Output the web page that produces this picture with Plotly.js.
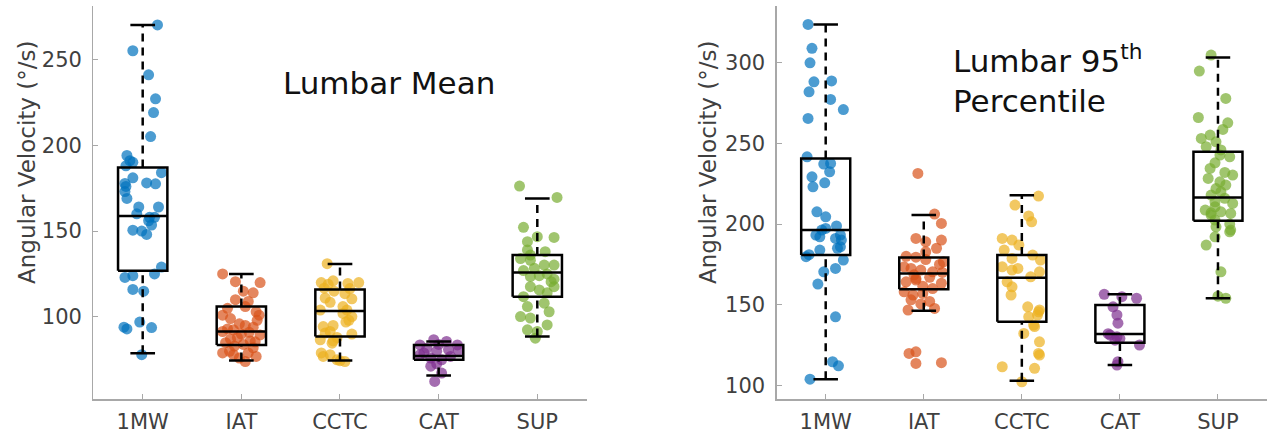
<!DOCTYPE html>
<html>
<head>
<meta charset="utf-8">
<script src="https://cdn.plot.ly/plotly-3.0.1.min.js"></script>
<style>html,body{margin:0;padding:0;background:#fff;}#chart{width:1267px;height:435px;}</style>
</head>
<body>
<div id="chart"></div>
<script>
// ---------- categories ----------
const groups = ['1MW', 'IAT', 'CCTC', 'CAT', 'SUP'];

// ---------- Lumbar Mean: individual values (°/s) and horizontal jitter ----------
const mean1MW = [270, 255, 241, 227, 219, 205, 194, 191, 190, 188, 184, 181, 178, 177.5, 177.7, 176, 173, 169, 164, 164, 160, 158, 158, 156, 153.5, 150.5, 150, 148, 129, 125, 124, 123, 116, 115, 97, 94, 93, 93.8, 78];
const meanJit1MW = [0.15, -0.10, 0.06, 0.13, 0.11, 0.08, -0.16, -0.13, -0.10, -0.17, 0.19, -0.10, 0.04, 0.13, -0.18, -0.17, -0.18, -0.16, -0.04, 0.16, -0.06, 0.07, 0.12, 0.06, 0.09, -0.10, -0.01, 0.04, 0.19, 0.12, -0.10, -0.18, -0.10, 0.01, -0.03, -0.19, -0.16, 0.09, -0.01];
const meanIAT = [125, 120.5, 120, 115, 114, 110, 109, 106, 105, 103, 101, 101, 99, 98, 96, 95, 94, 93, 92.5, 91.5, 91, 90, 89.5, 88, 87, 86, 85.5, 85, 84, 83, 82, 80, 79, 79, 78, 77, 76, 74];
const meanJitIAT = [-0.19, -0.06, 0.19, 0.02, 0.12, -0.06, 0.07, 0.04, -0.14, 0.15, 0.18, -0.19, -0.11, 0.16, -0.02, 0.04, 0.12, -0.14, -0.08, -0.19, 0.08, 0.00, 0.19, -0.04, -0.11, 0.09, 0.14, -0.16, 0.02, -0.07, 0.12, -0.12, -0.19, 0.07, -0.08, 0.15, -0.02, 0.04];
const meanCCTC = [131, 121, 120, 120, 119.5, 119, 116.7, 116.5, 115, 113.5, 111, 110.5, 108.5, 106, 104, 104, 102, 100.2, 98, 97, 95, 94.4, 91.5, 90.6, 90, 88, 86.7, 86, 84.7, 79, 78, 77, 75, 74.5, 74];
const meanJitCCTC = [-0.13, -0.07, -0.19, 0.19, 0.08, -0.12, -0.16, 0.10, -0.06, 0.05, -0.15, 0.12, -0.10, 0.03, -0.20, 0.07, 0.03, 0.12, 0.09, 0.06, -0.07, -0.17, -0.10, -0.15, 0.12, -0.03, -0.20, -0.07, -0.08, -0.19, -0.10, -0.17, -0.03, 0.00, 0.05];
const meanCAT = [86.7, 85.7, 84, 83.7, 83.7, 81.8, 81, 80.5, 80, 79, 77.9, 77, 76, 75, 72.7, 71.3, 67.3, 62.4];
const meanJitCAT = [-0.05, 0.08, 0.00, 0.19, -0.19, -0.12, 0.10, 0.20, -0.02, -0.15, -0.19, 0.12, -0.08, 0.03, -0.02, -0.08, 0.03, -0.04];
const meanSUP = [176.2, 169.6, 152.2, 146.7, 146.3, 143.8, 139, 138, 136, 134, 133, 130.2, 130.2, 128.3, 127, 125, 124, 123.5, 122, 120.5, 117.6, 117.6, 115.7, 114, 111.8, 108, 106, 103, 100.2, 99.3, 95.3, 92.5, 91.5, 87.6];
const meanJitSUP = [-0.18, 0.20, -0.14, 0.00, 0.17, -0.10, -0.10, 0.08, -0.07, -0.17, -0.07, 0.07, 0.17, -0.03, -0.14, 0.10, 0.02, -0.07, 0.17, 0.14, 0.17, -0.07, 0.02, 0.10, -0.14, 0.07, -0.10, 0.12, -0.17, -0.07, 0.10, -0.10, 0.00, -0.02];

// ---------- Lumbar Mean: box statistics ----------
const meanQ1  = [126.9, 83.7, 88.6, 75.0, 111.8];
const meanMed = [158.7, 91.5, 103.5, 77.3, 125.8];
const meanQ3  = [187.0, 106.0, 116.0, 83.7, 136.0];
const meanLo  = [78.9, 74.6, 74.6, 65.9, 88.6];
const meanHi  = [270.0, 125.0, 130.8, 85.7, 169.0];

// ---------- Lumbar 95th percentile: individual values and jitter ----------
const p951MW = [323.8, 309, 300, 288.2, 288.8, 282, 277.3, 271, 265.5, 241.7, 237.2, 237.6, 232.4, 229.3, 225.6, 223.1, 207.6, 204.5, 198.8, 197.3, 196.3, 193.2, 193.2, 192.1, 191.1, 190.1, 185.9, 185, 183.9, 181, 179.8, 177.7, 172.5, 170.4, 162.8, 142.5, 114.6, 112.1, 103.8];
const p95Jit1MW = [-0.18, -0.14, -0.16, -0.12, 0.06, -0.17, 0.05, 0.18, -0.18, -0.19, -0.02, 0.05, 0.04, -0.14, -0.01, -0.13, -0.09, 0.00, 0.11, 0.00, -0.04, -0.10, 0.15, -0.06, 0.10, 0.16, 0.15, 0.12, -0.06, -0.17, -0.20, 0.18, 0.10, -0.02, -0.08, 0.10, 0.07, 0.13, -0.16];
const p95IAT = [231.4, 206.2, 200.4, 191.1, 190.1, 189, 185, 182.8, 180, 179.5, 178, 176.6, 175, 173.5, 172.5, 171.5, 170.4, 170, 168.5, 167, 166.3, 165.3, 164.2, 163.3, 161.5, 160, 158, 157, 156, 153, 152, 150.5, 147.7, 146.7, 120.8, 119.8, 114, 113.6];
const p95JitIAT = [-0.06, 0.11, 0.18, -0.08, 0.18, 0.02, 0.13, 0.02, -0.18, -0.08, 0.02, 0.20, 0.16, -0.20, -0.13, -0.03, 0.09, 0.19, -0.10, 0.06, -0.08, -0.08, -0.18, 0.18, -0.01, 0.09, -0.20, -0.01, -0.11, -0.13, 0.06, -0.03, 0.11, -0.16, -0.08, -0.15, 0.18, -0.08];
const p95CCTC = [217.4, 211.8, 205, 201.4, 191.1, 190.1, 187, 183.9, 180.8, 178.7, 177.7, 173.5, 172.5, 171.5, 170.4, 167.3, 164.2, 161.1, 156, 148.7, 146.7, 145.6, 143.6, 142.5, 137.4, 136.4, 132.2, 127, 119.8, 118.8, 111.5, 110.5, 102.2];
const p95JitCCTC = [0.17, -0.07, 0.07, 0.10, -0.20, -0.10, -0.03, -0.18, 0.11, -0.10, 0.19, -0.20, -0.04, -0.10, 0.18, 0.09, -0.15, -0.10, -0.11, 0.06, 0.18, 0.17, 0.16, 0.07, 0.12, 0.13, 0.02, 0.18, 0.17, 0.18, -0.20, 0.13, 0.00];
const p95CAT = [156.4, 155, 154, 148.7, 143.6, 138.5, 132, 131.2, 130.1, 129, 128, 125, 114.6, 112.6];
const p95JitCAT = [-0.16, 0.02, 0.17, -0.07, -0.03, -0.02, -0.12, -0.10, -0.03, 0.00, -0.05, 0.20, -0.02, -0.03];
const p95SUP = [304.8, 294.9, 277.9, 266.1, 262.8, 258.7, 255.2, 253.1, 251, 248, 246, 242.8, 241.7, 238, 234.5, 232, 230.4, 228.3, 226.2, 224.2, 222, 220, 218, 216, 213.8, 212.8, 210.7, 208.7, 207.6, 207, 206.6, 205.6, 202.5, 200, 198.3, 196.3, 195.2, 192.1, 187, 170.4, 155.3, 154];
const p95JitSUP = [-0.07, -0.19, 0.08, -0.20, 0.10, 0.05, -0.08, -0.17, -0.02, -0.12, 0.03, 0.02, 0.12, -0.03, -0.08, 0.07, 0.15, -0.10, 0.02, 0.08, -0.02, 0.03, -0.07, 0.07, -0.03, 0.15, -0.03, -0.13, 0.03, -0.07, 0.13, -0.07, -0.03, 0.12, -0.02, 0.13, 0.12, -0.03, -0.12, 0.03, 0.00, 0.08];

// ---------- Lumbar 95th percentile: box statistics ----------
const p95Q1  = [180.8, 159.5, 139.4, 126.4, 202.0];
const p95Med = [196.3, 169.4, 166.7, 131.8, 216.5];
const p95Q3  = [240.7, 179.3, 180.8, 149.8, 244.8];
const p95Lo  = [103.8, 146.3, 102.8, 112.6, 154.0];
const p95Hi  = [323.8, 205.6, 217.8, 156.4, 303.3];

// ---------- styling ----------
const colors = ['#0072BD', '#D95319', '#EDB120', '#7E2F8E', '#77AC30'];
const tickFont = {family: 'DejaVu Sans, sans-serif', size: 21, color: '#404040'};
const axisGray = '#a8a8a8';
const BOX_HALF = 0.25, CAP_HALF = 0.125;

function pointTraces(valsList, jitList, xa, ya) {
  return valsList.map((vals, i) => ({
    type: 'scatter', mode: 'markers', xaxis: xa, yaxis: ya,
    x: vals.map((_, k) => (i + 1) + jitList[i][k]),
    y: vals,
    marker: {color: colors[i], size: 11, opacity: 0.7, line: {width: 0}},
    hoverinfo: 'y', showlegend: false
  }));
}

function boxTraces(q1, med, q3, lo, hi, xa, ya) {
  const sx = [], sy = [], dx = [], dy = [];
  for (let i = 0; i < q1.length; i++) {
    const c = i + 1;
    sx.push(c - BOX_HALF, c + BOX_HALF, c + BOX_HALF, c - BOX_HALF, c - BOX_HALF, null);
    sy.push(q1[i], q1[i], q3[i], q3[i], q1[i], null);
    sx.push(c - BOX_HALF, c + BOX_HALF, null);
    sy.push(med[i], med[i], null);
    sx.push(c - CAP_HALF, c + CAP_HALF, null, c - CAP_HALF, c + CAP_HALF, null);
    sy.push(hi[i], hi[i], null, lo[i], lo[i], null);
    dx.push(c, c, null, c, c, null);
    dy.push(q3[i], hi[i], null, lo[i], q1[i], null);
  }
  return [
    {type: 'scatter', mode: 'lines', xaxis: xa, yaxis: ya, x: dx, y: dy,
     line: {color: '#000', width: 2.5, dash: '8px,6px'}, hoverinfo: 'skip', showlegend: false},
    {type: 'scatter', mode: 'lines', xaxis: xa, yaxis: ya, x: sx, y: sy,
     line: {color: '#000', width: 2.5}, hoverinfo: 'skip', showlegend: false}
  ];
}

const data = [].concat(
  pointTraces([mean1MW, meanIAT, meanCCTC, meanCAT, meanSUP],
              [meanJit1MW, meanJitIAT, meanJitCCTC, meanJitCAT, meanJitSUP], 'x', 'y'),
  boxTraces(meanQ1, meanMed, meanQ3, meanLo, meanHi, 'x', 'y'),
  pointTraces([p951MW, p95IAT, p95CCTC, p95CAT, p95SUP],
              [p95Jit1MW, p95JitIAT, p95JitCCTC, p95JitCAT, p95JitSUP], 'x2', 'y2'),
  boxTraces(p95Q1, p95Med, p95Q3, p95Lo, p95Hi, 'x2', 'y2')
);

function xAxis(domain, anchor) {
  return {
    domain: domain, anchor: anchor, range: [0.5, 5.5],
    tickmode: 'array', tickvals: [1, 2, 3, 4, 5], ticktext: groups,
    ticks: 'inside', ticklen: 5, tickwidth: 1, tickcolor: axisGray,
    showline: true, linecolor: axisGray, linewidth: 1.3,
    showgrid: false, zeroline: false, tickfont: tickFont, ticklabelstandoff: 3,
    fixedrange: true
  };
}
function yAxis(domain, anchor, range, tickvals) {
  return {
    domain: domain, anchor: anchor, range: range,
    tickmode: 'array', tickvals: tickvals,
    ticks: 'inside', ticklen: 5, tickwidth: 1, tickcolor: axisGray,
    showline: true, linecolor: axisGray, linewidth: 1.3,
    showgrid: false, zeroline: false, tickfont: tickFont, ticklabelstandoff: 6,
    fixedrange: true
  };
}

const yDomain = [0.082, 0.986];
const layout = {
  width: 1267, height: 435,
  margin: {l: 0, r: 0, t: 0, b: 0},
  paper_bgcolor: '#fff', plot_bgcolor: '#fff',
  showlegend: false,
  xaxis: xAxis([0.0737, 0.463], 'y'),
  yaxis: yAxis(yDomain, 'x', [52, 281], [100, 150, 200, 250]),
  xaxis2: xAxis([0.613, 1.0], 'y2'),
  yaxis2: yAxis(yDomain, 'x2', [91.3, 335.2], [100, 150, 200, 250, 300]),
  annotations: [
    {text: 'Angular Velocity (°/s)', textangle: -90, xref: 'paper', yref: 'paper',
     x: 27 / 1267, y: 1 - 163 / 435, xanchor: 'center', yanchor: 'middle', showarrow: false,
     font: {family: 'DejaVu Sans, sans-serif', size: 23, color: '#404040'}},
    {text: 'Angular Velocity (°/s)', textangle: -90, xref: 'paper', yref: 'paper',
     x: 708 / 1267, y: 1 - 163 / 435, xanchor: 'center', yanchor: 'middle', showarrow: false,
     font: {family: 'DejaVu Sans, sans-serif', size: 23, color: '#404040'}},
    {text: 'Lumbar Mean', xref: 'paper', yref: 'paper',
     x: 388.5 / 1267, y: 1 - 83 / 435, xanchor: 'center', yanchor: 'middle', showarrow: false,
     font: {family: 'DejaVu Sans, sans-serif', size: 31, color: '#111'}},
    {text: 'Lumbar 95<sup>th</sup><br>Percentile', xref: 'paper', yref: 'paper', align: 'left',
     x: 951 / 1267, y: 1 - 79 / 435, xanchor: 'left', yanchor: 'middle', showarrow: false,
     font: {family: 'DejaVu Sans, sans-serif', size: 31, color: '#111'}}
  ]
};

Plotly.newPlot('chart', data, layout, {displayModeBar: false, staticPlot: true});
</script>
</body>
</html>
